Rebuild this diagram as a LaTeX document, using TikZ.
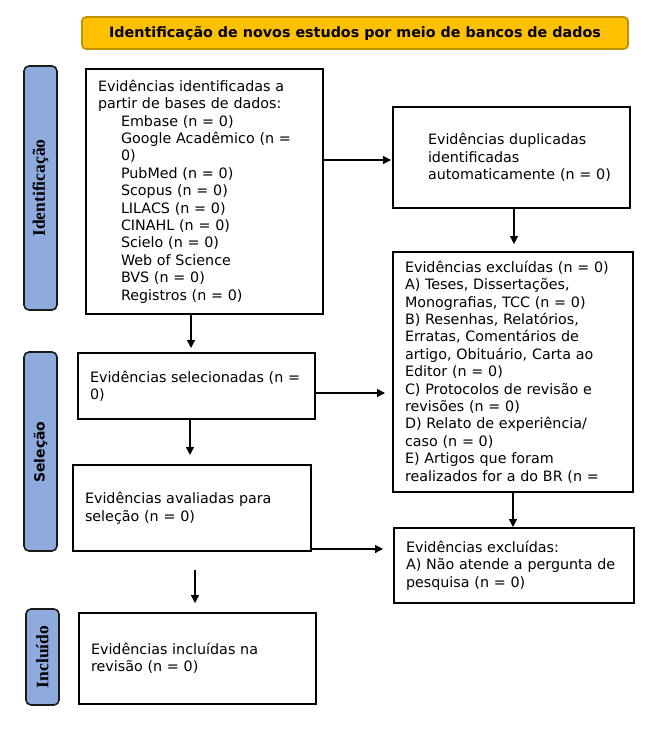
\documentclass[tikz,border=0pt]{standalone}
\usepackage{fontspec}
\setmainfont{DejaVu Sans}
\newfontfamily\serifbold{Liberation Serif}[BoldFont={* Bold}]
\usetikzlibrary{arrows.meta,calc}
\definecolor{titlefill}{HTML}{FFC000}
\definecolor{titleline}{HTML}{BF9000}
\definecolor{sidefill}{HTML}{8FAADC}
\definecolor{sideline}{HTML}{1A1A1A}
\tikzset{
  box/.style={draw=black, line width=2pt, align=left, inner xsep=12pt,
    font=\fontsize{14.3}{17.4}\selectfont},
  side/.style={draw=sideline, fill=sidefill, line width=1.6pt, rounded corners=5pt,
    minimum width=33pt, inner sep=0pt},
  arr/.style={line width=1.2pt, -{Triangle[length=8pt,width=8pt]}},
}
\newcommand{\ind}{\hspace*{23pt}}
\begin{document}
\begin{tikzpicture}[x=1pt,y=-1pt]
\useasboundingbox (0,0) rectangle (672,742);
% title
\node[draw=titleline, fill=titlefill, line width=1.6pt, rounded corners=4pt,
  minimum width=546pt, minimum height=32pt, inner sep=0pt,
  font=\fontsize{14.3}{17}\selectfont\bfseries] (title) at (355,33)
  {Identificação de novos estudos por meio de bancos de dados};
% side labels
\node[side, minimum height=244pt] (sid) at (40.5,188) {};
\node[rotate=90, font=\serifbold\fontsize{17.5}{20}\selectfont\bfseries] (sidt) at (sid.center) {Identificação};
\node[side, minimum height=199pt] (ssel) at (40.5,451.5) {};
\node[rotate=90, font=\fontsize{14}{16}\selectfont\bfseries] (sselt) at (40.5,452) {Seleção};
\node[side, minimum height=96pt] (sinc) at (42.5,657) {};
\node[rotate=90, font=\serifbold\fontsize{17.5}{20}\selectfont\bfseries] (sinct) at (sinc.center) {Incluído};
% boxes
\node[box, text width=213pt, minimum height=245pt] (box1) at (204.5,191.5)
 {Evidências identificadas a\\
  partir de bases de dados:\\
  \ind Embase (n = 0)\\
  \ind Google Acadêmico (n =\\
  \ind 0)\\
  \ind PubMed (n = 0)\\
  \ind Scopus (n = 0)\\
  \ind LILACS (n = 0)\\
  \ind CINAHL (n = 0)\\
  \ind Scielo (n = 0)\\
  \ind Web of Science\\
  \ind BVS (n = 0)\\
  \ind Registros (n = 0)};
\node[box, text width=213pt, minimum height=101pt] (dup) at (511.5,157.5)
 {\ind Evidências duplicadas\\
  \ind identificadas\\
  \ind automaticamente (n = 0)};
\node[box, text width=216pt, minimum height=240pt] (excl) at (513,372)
 {Evidências excluídas (n = 0)\\
  A) Teses, Dissertações,\\
  Monografias, TCC (n = 0)\\
  B) Resenhas, Relatórios,\\
  Erratas, Comentários de\\
  artigo, Obituário, Carta ao\\
  Editor (n = 0)\\
  C) Protocolos de revisão e\\
  revisões (n = 0)\\
  D) Relato de experiência/\\
  caso (n = 0)\\
  E) Artigos que foram\\
  realizados for a do BR (n =};
\node[box, text width=213pt, minimum height=66pt] (sel) at (196.5,386)
 {Evidências selecionadas (n =\\0)};
\node[box, text width=214pt, minimum height=86pt] (aval) at (192,508)
 {Evidências avaliadas para\\seleção (n = 0)};
\node[box, text width=216pt, minimum height=75pt] (excl2) at (514,565.5)
 {Evidências excluídas:\\A) Não atende a pergunta de\\pesquisa (n = 0)};
\node[box, text width=213pt, minimum height=91pt] (incl) at (197.5,658.5)
 {Evidências incluídas na\\revisão (n = 0)};
% connectors
\draw[arr] ($(box1.east |- dup.west)+(0,-2.5pt)$) -- ($(dup.west)+(-1pt,-2.5pt)$);
\draw[arr] ($(dup.south)+(2.5pt,0)$) -- ($(dup.south |- excl.north)+(2.5pt,7pt)$);
\draw[arr] ($(box1.south)+(-13.5pt,0)$) -- ($(box1.south |- sel.north)+(-13.5pt,4pt)$);
\draw[arr] ($(sel.east)+(0,-7pt)$) -- ($(sel.east -| excl.west)+(-7pt,-7pt)$);
\draw[arr] ($(sel.south)+(-6.5pt,0)$) -- ($(sel.south |- aval.north)+(-6.5pt,9pt)$);
\draw[arr] (excl.south) -- (excl.south |- excl2.north);
\draw[arr] ($(aval.south east)+(0,3pt)$) -- ($(aval.south east -| excl2.west)+(-10pt,3pt)$);
\draw[arr] ($(aval.south)+(3pt,-18pt)$) -- ($(aval.south |- incl.north)+(3pt,9pt)$);
\end{tikzpicture}
\end{document}
